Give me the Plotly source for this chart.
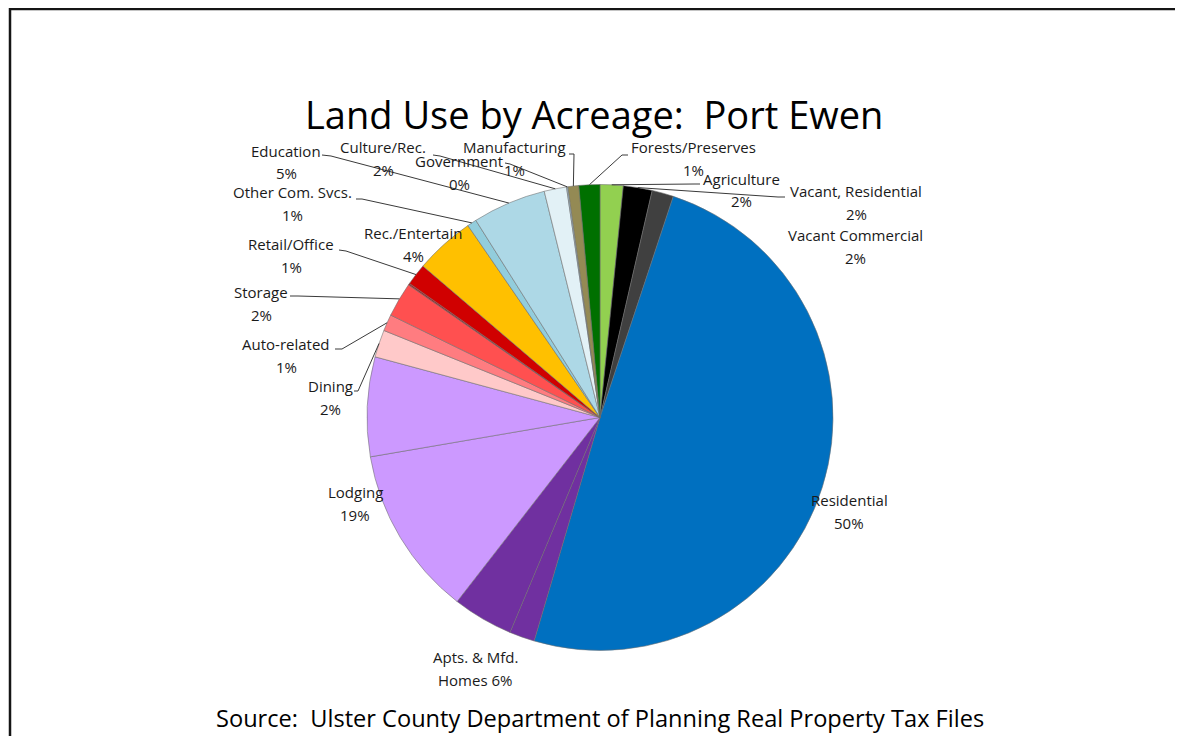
import math
import plotly.graph_objects as go

# the page puts the figure 8px in from the top-left corner
OFF = 8
W, H = 1183 - OFF, 736 - OFF

# ---------------- data ----------------
slice_ids = ["Agriculture", "Vacant, Residential", "Vacant Commercial", "Residential",
             "Apts. & Mfd. Homes (a)", "Apts. & Mfd. Homes (b)", "Lodging (a)", "Lodging (b)",
             "Dining", "Auto-related", "Storage", "Storage (b)", "Retail/Office",
             "Rec./Entertain", "Other Com. Svcs.", "Education", "Culture/Rec.",
             "Government", "Manufacturing", "Forests/Preserves"]
slice_groups = ["Agriculture", "Vacant, Residential", "Vacant Commercial", "Residential",
                "Apts. & Mfd. Homes", "Apts. & Mfd. Homes", "Lodging", "Lodging",
                "Dining", "Auto-related", "Storage", "Storage", "Retail/Office",
                "Rec./Entertain", "Other Com. Svcs.", "Education", "Culture/Rec.",
                "Government", "Manufacturing", "Forests/Preserves"]
slice_values = [1.6, 2.0, 1.5, 49.5, 1.75, 4.2, 11.8, 6.9, 1.9, 1.15, 2.4, 0.12, 1.5,
                4.15, 0.65, 5.1, 1.55, 0.1, 0.75, 1.45]
slice_colors = ["#92D050", "#000000", "#404040", "#0070C0", "#7030A0", "#7030A0",
                "#CC99FF", "#CC99FF", "#FFC9C9", "#FF7C80", "#FF5050", "#A02828", "#D00000",
                "#FFC000", "#92CDDC", "#ADD8E6", "#E2F1F6", "#9DB8C6", "#948A54", "#007000"]

label_groups = ["Education", "Culture/Rec.", "Government", "Manufacturing", "Forests/Preserves",
                "Agriculture", "Vacant, Residential", "Vacant Commercial", "Residential",
                "Apts. & Mfd. Homes", "Lodging", "Dining", "Auto-related", "Storage",
                "Retail/Office", "Rec./Entertain", "Other Com. Svcs."]
label_line1 = ["Education", "Culture/Rec.", "Government", "Manufacturing", "Forests/Preserves",
               "Agriculture", "Vacant, Residential", "Vacant Commercial", "Residential",
               "Apts. & Mfd.", "Lodging", "Dining", "Auto-related", "Storage",
               "Retail/Office", "Rec./Entertain", "Other Com. Svcs."]
label_line2 = ["5%", "2%", "0%", "1%", "1%", "2%", "2%", "2%", "50%", "Homes 6%", "19%",
               "2%", "1%", "2%", "1%", "4%", "1%"]

title_text = "Land Use by Acreage:\u00a0 Port Ewen"
source_text = "Source:\u00a0 Ulster County Department of Planning Real Property Tax Files"

# ---------------- layout (positions in screen px) ----------------
CX, CY, R = 600, 417.5, 233
label_pos = {
    "Education": (286, 151), "Culture/Rec.": (383, 147), "Government": (459, 161),
    "Manufacturing": (514, 147), "Forests/Preserves": (693, 147), "Agriculture": (741, 179),
    "Vacant, Residential": (856, 191), "Vacant Commercial": (855, 235),
    "Residential": (849, 500), "Apts. & Mfd. Homes": (475, 657), "Lodging": (355, 492),
    "Dining": (330, 386), "Auto-related": (286, 344), "Storage": (261, 292),
    "Retail/Office": (291, 244), "Rec./Entertain": (413, 233), "Other Com. Svcs.": (292, 192),
}
LINE_GAP = 22.5
leaders = {  # start point near label, elbow point
    "Education": ((322, 155), (331, 156)),
    "Culture/Rec.": ((433, 155), (440, 156)),
    "Government": ((505, 163), (510, 164)),
    "Other Com. Svcs.": ((356, 199), (362, 199)),
    "Retail/Office": ((339, 250), (346, 251)),
    "Storage": ((290, 296), (298, 296)),
    "Auto-related": ((335, 349), (342, 349)),
    "Dining": ((354, 391), (358, 391)),
    "Manufacturing": ((569, 154), (574, 154)),
    "Forests/Preserves": ((628, 155), (622, 155)),
    "Agriculture": ((700, 184), (694, 184)),
    "Vacant, Residential": ((785, 197), (778, 197)),
}

FONT = "Open Sans"
TXT = "#1a1a1a"


def px(x):
    return (x - OFF) / W


def py(y):
    return 1 - (y - OFF) / H


fig = go.Figure(go.Pie(
    labels=slice_ids, values=slice_values, sort=False, direction="clockwise", rotation=0,
    marker=dict(colors=slice_colors, line=dict(color="rgba(110,110,110,0.7)", width=0.8)),
    textinfo="none", hoverinfo="label+percent", showlegend=False,
    domain=dict(x=[px(CX - R), px(CX + R)], y=[py(CY + R), py(CY - R)]),
))

# group mid-angles computed from the data
total = sum(slice_values)
g_start, g_end = {}, {}
cum = 0.0
for g, v in zip(slice_groups, slice_values):
    g_start.setdefault(g, cum)
    cum += v
    g_end[g] = cum


def edge_point(g):
    a = math.radians((g_start[g] + g_end[g]) / 2 / total * 360)
    return CX + R * math.sin(a), CY - R * math.cos(a)


shapes = []
for g, (s, e) in leaders.items():
    ex, ey = edge_point(g)
    path = f"M {px(s[0])},{py(s[1])} L {px(e[0])},{py(e[1])} L {px(ex)},{py(ey)}"
    shapes.append(dict(type="path", path=path, xref="paper", yref="paper",
                       line=dict(color="#3a3a3a", width=1)))

# frame
shapes.append(dict(type="rect", xref="paper", yref="paper", x0=px(10), y0=py(9),
                   x1=px(1183 + 30), y1=py(736 + 30), line=dict(color="#151515", width=2.5)))

annotations = []
for g, l1, l2 in zip(label_groups, label_line1, label_line2):
    x, y = label_pos[g]
    for txt, yy in ((l1, y), (l2, y + LINE_GAP)):
        annotations.append(dict(text=txt, x=px(x), y=py(yy), xref="paper", yref="paper",
                                showarrow=False, xanchor="center", yanchor="middle",
                                font=dict(family=FONT, size=15, color=TXT)))

annotations.append(dict(text=title_text, x=px(593.5), y=py(113.5), xref="paper", yref="paper",
                        showarrow=False, xanchor="center", yanchor="middle",
                        font=dict(family=FONT, size=38, color="#000000")))
annotations.append(dict(text=source_text, x=px(600), y=py(718), xref="paper", yref="paper",
                        showarrow=False, xanchor="center", yanchor="middle",
                        font=dict(family=FONT, size=23.6, color="#000000")))

fig.update_layout(width=W, height=H, margin=dict(l=0, r=0, t=0, b=0),
                  paper_bgcolor="white", plot_bgcolor="white",
                  shapes=shapes, annotations=annotations)

fig.write_html("out.html")
